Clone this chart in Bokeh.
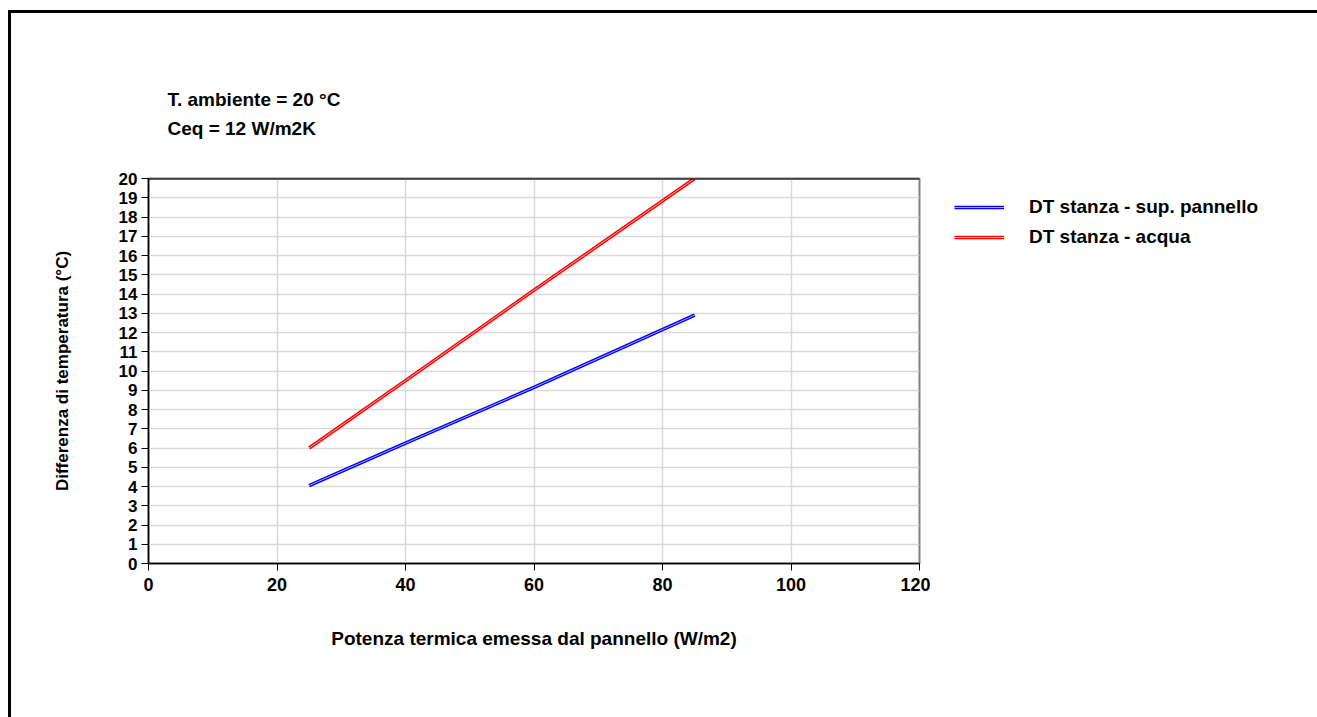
from bokeh.plotting import figure
from bokeh.layouts import row
from bokeh.models import (Legend, LegendItem, Title, Span, FixedTicker, Range1d)
from bokeh.embed import file_html
from bokeh.resources import INLINE

# ---- data ----
potenza = [25, 40, 60, 85]
dt_superficie = [4.05, 6.25, 9.15, 12.9]
dt_acqua = [6.0, 9.5, 14.2, 20.0]
x_ticks = [0, 20, 40, 60, 80, 100, 120]
y_ticks = list(range(0, 21))
series_names = ["DT stanza - sup. pannello", "DT stanza - acqua"]
series_colors = ["#0000ff", "#ff0000"]
series_inner = ["#c8d0ff", "#ffd0d0"]
note_lines = ["T. ambiente = 20 °C", "Ceq = 12 W/m2K"]

FONT = "Liberation Sans"

p = figure(width=930, height=717, output_backend="svg", toolbar_location=None,
           x_range=Range1d(0, 120), y_range=Range1d(0, 20),
           min_border_left=148, min_border_right=11,
           min_border_top=178, min_border_bottom=154)
p.toolbar.logo = None

p.background_fill_color = "white"
p.border_fill_alpha = 0
p.outline_line_color = "#808080"
p.outline_line_width = 2

# grid
p.xgrid.ticker = FixedTicker(ticks=x_ticks)
p.ygrid.ticker = FixedTicker(ticks=y_ticks)
p.xgrid.grid_line_color = "#d9d9d9"
p.ygrid.grid_line_color = "#d9d9d9"
p.xgrid.grid_line_width = 1.5
p.ygrid.grid_line_width = 1.5

# axes
for ax in (p.xaxis[0], p.yaxis[0]):
    ax.axis_line_color = "black"
    ax.axis_line_width = 1.5
    ax.major_tick_line_color = "black"
    ax.minor_tick_line_color = None
    ax.major_tick_in = 0
    ax.major_tick_out = 7
    ax.major_label_text_font = FONT
    ax.major_label_text_font_style = "bold"
    ax.major_label_text_font_size = "17px"
    ax.major_label_text_color = "black"
    ax.axis_label_text_font = FONT
    ax.axis_label_text_font_style = "bold"
    ax.axis_label_text_color = "black"

p.xaxis.major_label_text_font_size = "18px"
p.xaxis.axis_label_text_font_size = "19px"
p.yaxis.axis_label_text_font_size = "17px"
p.xaxis.ticker = FixedTicker(ticks=x_ticks)
p.yaxis.ticker = FixedTicker(ticks=y_ticks)
p.xaxis.axis_label = "Potenza termica emessa dal pannello (W/m2)"
p.yaxis.axis_label = "Differenza di temperatura (°C)"
p.xaxis.axis_label_standoff = 34
p.yaxis.axis_label_standoff = 44
p.xaxis.major_label_standoff = 7
p.yaxis.major_label_standoff = 4

# top border black
p.add_layout(Span(location=20, dimension="width", line_color="black", line_width=2))

# series (double line look)
p.line(potenza, dt_superficie, line_color=series_colors[0], line_width=3.5)
p.line(potenza, dt_superficie, line_color=series_inner[0], line_width=0.8)
p.line(potenza, dt_acqua, line_color=series_colors[1], line_width=3.5)
p.line(potenza, dt_acqua, line_color=series_inner[1], line_width=0.8)

# notes above the plot area
p.add_layout(Title(text=note_lines[0] + "\n" + note_lines[1], align="left", offset=19,
                   standoff=78, text_font=FONT, text_font_style="bold",
                   text_font_size="19px", text_color="black",
                   text_line_height=1.4), "above")

# ---- legend panel (right) ----
q = figure(width=387, height=717, output_backend="svg", toolbar_location=None,
           x_range=Range1d(0, 1), y_range=Range1d(0, 1),
           x_axis_location=None, y_axis_location=None,
           min_border_left=6, min_border_right=0, min_border_top=178, min_border_bottom=154)
q.toolbar.logo = None
q.grid.visible = False
q.outline_line_color = None
q.background_fill_alpha = 0
q.border_fill_alpha = 0

items = []
for name, col, inner in zip(series_names, series_colors, series_inner):
    a = q.line([-5, -4], [-5, -4], line_color=col, line_width=3.5)
    b = q.line([-5, -4], [-5, -4], line_color=inner, line_width=0.8)
    items.append(LegendItem(label=name, renderers=[a, b]))

legend = Legend(items=items, location="top_left")
legend.border_line_color = None
legend.background_fill_alpha = 0
legend.label_text_font = FONT
legend.label_text_font_style = "bold"
legend.label_text_font_size = "19px"
legend.label_text_color = "black"
legend.glyph_width = 50
legend.label_standoff = 25
legend.spacing = 8
legend.label_height = 20
legend.glyph_height = 20
legend.margin = 18
legend.padding = 0
q.add_layout(legend, "center")

layout = row(p, q, spacing=0, styles={
    "background": "linear-gradient(#000, #000) 8px 10px / 3px 100% no-repeat, "
                  "linear-gradient(#000, #000) 8px 10px / 100% 3px no-repeat, #ffffff"
})

open("out.html", "w").write(file_html(layout, INLINE))
